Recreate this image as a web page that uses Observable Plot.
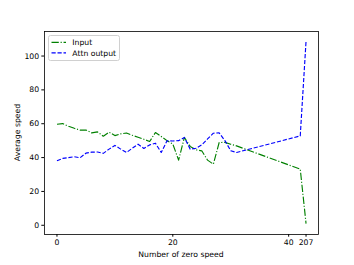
<!DOCTYPE html>
<html>
<head>
<meta charset="utf-8">
<script src="https://cdn.jsdelivr.net/npm/d3@7"></script>
<script src="https://cdn.jsdelivr.net/npm/@observablehq/plot@0.6"></script>
<style>
  html, body { margin: 0; padding: 0; background: #fff; }
  svg { display: block; }
</style>
</head>
<body>
<div id="chart"></div>
<script>
// x positions (index); the last position is labelled "207"
const xPos = [0,1,2,3,4,5,6,7,8,9,10,11,12,13,14,15,16,17,18,19,20,21,22,23,24,25,26,27,28,29,30,31,42,43];
const inputVals = [59.7,60.1,58.5,57.3,56.2,56.3,54.6,55.2,52.6,55.0,53.0,54.0,54.5,53.2,52.0,50.8,49.5,54.8,52.5,50.0,48.0,38.5,51.9,46.6,44.6,44.0,38.5,36.1,48.9,49.0,47.9,46.9,33.2,1.0];
const attnVals = [38.1,39.5,40.0,40.5,39.9,42.6,43.2,43.3,42.5,45.0,47.2,45.0,43.0,45.5,47.9,45.4,47.5,48.5,43.0,49.9,49.8,50.0,51.9,45.0,45.5,47.5,51.0,54.4,54.6,50.0,44.0,43.0,52.8,108.8];
const xTicks = [0,20,40,43];
const xTickLabels = ["0","20","40","207"];
const yTicks = [0,20,40,60,80,100];
const seriesNames = ["Input","Attn output"];
const seriesColors = ["green","blue"];
const seriesDash = ["7.3,1.8,1.15,1.8","4.2,1.8"];

const inputData = xPos.map((x,i)=>({x, y: inputVals[i]}));
const attnData = xPos.map((x,i)=>({x, y: attnVals[i]}));

const W = 354, H = 265;
const mL = 44, mR = 36, mT = 31, mB = 31;
const fs = "7.7px";

const plot = Plot.plot({
  width: W, height: H,
  marginLeft: mL, marginRight: mR, marginTop: mT, marginBottom: mB,
  style: {fontFamily: "DejaVu Sans", fontSize: fs, color: "black", background: "white"},
  x: {domain: [-2.15, 45.15]},
  y: {domain: [-5.45, 114.5]},
  marks: [
    Plot.line(inputData, {x: "x", y: "y", stroke: seriesColors[0], strokeWidth: 1.15, strokeDasharray: seriesDash[0], strokeLinecap: "butt"}),
    Plot.line(attnData, {x: "x", y: "y", stroke: seriesColors[1], strokeWidth: 1.15, strokeDasharray: seriesDash[1], strokeLinecap: "butt"}),
    Plot.frame({stroke: "black", strokeWidth: 0.8}),
    Plot.axisX({ticks: xTicks, tickFormat: d => xTickLabels[xTicks.indexOf(d)], tickSize: 2.7, tickPadding: 2.7, label: null, fontSize: fs}),
    Plot.axisY({ticks: yTicks, tickSize: 2.7, tickPadding: 2.7, label: null, fontSize: fs})
  ]
});

const svg = d3.select(plot);
// axis titles
svg.append("text").attr("x", mL + (W - mL - mR)/2).attr("y", 256.5)
  .attr("text-anchor", "middle").attr("font-family", "DejaVu Sans").attr("font-size", fs)
  .attr("fill", "black").text("Number of zero speed");
svg.append("text").attr("transform", `translate(20,${mT + (H - mT - mB)/2}) rotate(-90)`)
  .attr("text-anchor", "middle").attr("font-family", "DejaVu Sans").attr("font-size", fs)
  .attr("fill", "black").text("Average speed");

// legend
const lg = svg.append("g");
lg.append("rect").attr("x", 48.5).attr("y", 35.5).attr("width", 71).attr("height", 25)
  .attr("rx", 2).attr("fill", "white").attr("stroke", "#d0d0d0").attr("stroke-width", 1);
seriesNames.forEach((name, i) => {
  const yy = 42.3 + i * 10.6;
  lg.append("line").attr("x1", 51.5).attr("x2", 66).attr("y1", yy).attr("y2", yy)
    .attr("stroke", seriesColors[i]).attr("stroke-width", 1.15).attr("stroke-dasharray", seriesDash[i]);
  lg.append("text").attr("x", 72.3).attr("y", yy).attr("dy", "0.35em")
    .attr("text-anchor", "start")
    .attr("font-family", "DejaVu Sans").attr("font-size", fs).attr("fill", "black").text(name);
});

document.getElementById("chart").appendChild(plot);
</script>
</body>
</html>
